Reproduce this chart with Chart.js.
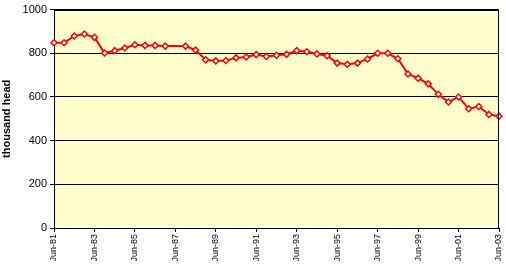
<!DOCTYPE html>
<html>
<head>
<meta charset="utf-8">
<script src="https://cdn.jsdelivr.net/npm/chart.js@4/dist/chart.umd.min.js"></script>
<style>
html,body{margin:0;padding:0;background:#fff;}
#wrap{width:506px;height:269px;position:relative;}
</style>
</head>
<body>
<div id="wrap"><canvas id="c" width="506" height="269"></canvas></div>
<script>
const periods = ["Jun-81","Dec-81","Jun-82","Dec-82","Jun-83","Dec-83","Jun-84","Dec-84","Jun-85","Dec-85",
  "Jun-86","Dec-86","Jun-87","Dec-87","Jun-88","Dec-88","Jun-89","Dec-89","Jun-90","Dec-90",
  "Jun-91","Dec-91","Jun-92","Dec-92","Jun-93","Dec-93","Jun-94","Dec-94","Jun-95","Dec-95",
  "Jun-96","Dec-96","Jun-97","Dec-97","Jun-98","Dec-98","Jun-99","Dec-99","Jun-00","Dec-00",
  "Jun-01","Dec-01","Jun-02","Dec-02","Jun-03"];
const headThousands = [848,848,879,888,873,801,812,824,839,836,
  836,833,null,833,815,770,765,767,779,783,
  794,785,791,795,812,807,797,789,755,750,
  755,774,800,800,775,705,686,660,612,577,
  600,546,556,520,512];
const shownTickLabels = ["Jun-81","Jun-83","Jun-85","Jun-87","Jun-89","Jun-91","Jun-93","Jun-95","Jun-97","Jun-99","Jun-01","Jun-03"];
const yTitle = "thousand head";

const plotFrame = {
  id: 'plotFrame',
  beforeDraw(chart) {
    const a = chart.chartArea, c = chart.ctx;
    c.save();
    c.fillStyle = '#FFFFCC';
    c.fillRect(a.left, a.top, a.right - a.left, a.bottom - a.top);
    c.restore();
  },
  afterDatasetsDraw(chart) {
    const a = chart.chartArea, c = chart.ctx;
    c.save();
    c.strokeStyle = '#000';
    c.lineWidth = 1;
    c.beginPath();
    c.moveTo(Math.round(a.left) + 0.5, Math.round(a.top) + 0.5);
    c.lineTo(Math.round(a.right) - 0.5, Math.round(a.top) + 0.5);
    c.lineTo(Math.round(a.right) - 0.5, Math.round(a.bottom) + 0.5);
    c.stroke();
    c.restore();
  }
};

const isShown = (i) => shownTickLabels.includes(periods[i]);

new Chart(document.getElementById('c'), {
  type: 'line',
  data: {
    labels: periods,
    datasets: [{
      data: headThousands,
      borderColor: '#FF0000',
      borderWidth: 2,
      pointStyle: 'rectRot',
      pointRadius: 3,
      pointBorderWidth: 1.5,
      pointBackgroundColor: '#FFFFFF',
      pointBorderColor: '#FF0000',
      spanGaps: true,
      tension: 0
    }]
  },
  options: {
    responsive: false,
    animation: false,
    devicePixelRatio: 1,
    layout: { padding: { top: 8, right: 7, left: 0, bottom: 0 } },
    plugins: { legend: { display: false }, tooltip: { enabled: false } },
    scales: {
      x: {
        type: 'category',
        offset: false,
        afterFit(s) { s.height = 41; s.paddingLeft = 0; s.paddingRight = 0; },
        border: { display: true, color: '#000', width: 1 },
        grid: {
          drawOnChartArea: false,
          drawTicks: true,
          tickLength: 4,
          color: (ctx) => isShown(ctx.index) ? '#000' : 'rgba(0,0,0,0)',
          tickColor: (ctx) => isShown(ctx.index) ? '#000' : 'rgba(0,0,0,0)'
        },
        ticks: {
          autoSkip: false,
          maxRotation: 90,
          minRotation: 90,
          padding: 2,
          color: '#000',
          font: { family: 'Liberation Sans, Arial, sans-serif', size: 9 },
          callback(v, i) { return isShown(i) ? periods[i] : ''; }
        }
      },
      y: {
        min: 0,
        max: 1000,
        afterFit(s) { s.width = 54; },
        border: { display: true, color: '#000', width: 1 },
        grid: {
          color: '#000',
          lineWidth: 1,
          drawTicks: true,
          tickLength: 4,
          tickColor: '#000'
        },
        ticks: {
          stepSize: 200,
          padding: 3,
          color: '#000',
          font: { family: 'Liberation Sans, Arial, sans-serif', size: 11 },
          callback(v) { return String(v); }
        },
        title: {
          display: true,
          text: yTitle,
          color: '#000',
          font: { family: 'Liberation Sans, Arial, sans-serif', size: 11, weight: 'bold' },
          padding: { top: 0, bottom: 0 }
        }
      }
    }
  },
  plugins: [plotFrame]
});
</script>
</body>
</html>
